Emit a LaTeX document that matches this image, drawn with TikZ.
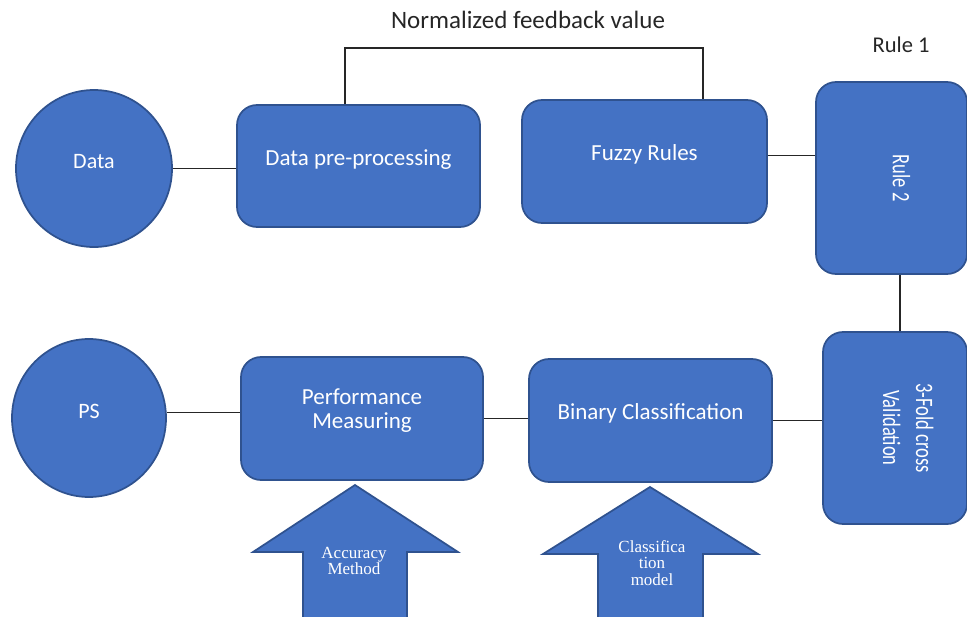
\documentclass[tikz,border=0pt]{standalone}
\usepackage{fontspec}
\setmainfont{Carlito}
\newfontfamily\serifarrow{Liberation Serif}
\usepackage{graphicx}
\usetikzlibrary{shapes.geometric}
\definecolor{fillblue}{HTML}{4472C4}
\definecolor{edgeblue}{HTML}{2F528F}
\definecolor{inkgray}{HTML}{262626}
\newcommand{\mytxt}[2][0.5pt]{\raisebox{#1}[0pt][0pt]{#2}}
\newcommand{\rottxt}[2]{\rotatebox{-90}{\raisebox{#1}[0pt][0pt]{\scalebox{1}[1.35]{#2}}}}
\tikzset{
  shapebase/.style={draw=edgeblue, fill=fillblue, line width=1.3pt, text=white,
    font=\fontsize{17.25}{18}\selectfont, inner sep=0pt},
  roundbox/.style={shapebase, rectangle, rounded corners=15pt},
  circ/.style={shapebase, ellipse, font=\fontsize{16.5}{18}\selectfont},
  rotbox/.style={roundbox, font=\fontsize{13.9}{18.3}\selectfont},
  link/.style={draw=inkgray, line width=0.9pt},
  blockarrow/.style={draw=edgeblue, fill=fillblue, line width=1.3pt, line join=miter},
  arrowtext/.style={text=white, font=\serifarrow\fontsize{12.75}{12.4}\selectfont,
    align=center, inner sep=0pt},
  plaintext/.style={text=inkgray, inner sep=0pt, anchor=base}
}
\begin{document}
\begin{tikzpicture}[x=0.75pt,y=-0.75pt]
\useasboundingbox (0,0) rectangle (967,617);
\clip (0,0) rectangle (967,617);

% top row
\node[circ, minimum width=117pt, minimum height=117.75pt] (data) at (94,168.5) {\mytxt[0pt]{Data}};
\node[roundbox, minimum width=182.25pt, minimum height=91.5pt] (pre) at (358.5,166) {\mytxt{Data pre-processing}};
\node[roundbox, minimum width=183.75pt, minimum height=92.25pt] (fuzzy) at (644.5,161.5) {\mytxt{Fuzzy Rules}};
\node[rotbox, minimum width=113.25pt, minimum height=144pt] (rtwo) at (891.5,178) {\rottxt{1pt}{Rule 2}};

% bottom row
\node[circ, minimum width=115.5pt, minimum height=118.5pt] (ps) at (89,418) {\mytxt[0pt]{PS}};
\node[roundbox, minimum width=181.5pt, minimum height=92.25pt] (perf) at (362,418.5) {\mytxt[0.8pt]{\begin{tabular}{@{}c@{}}Performance\\Measuring\end{tabular}}};
\node[roundbox, minimum width=182.25pt, minimum height=92.25pt] (bin) at (650.5,420.5) {\mytxt{Binary Classification}};
\node[rotbox, minimum width=108pt, minimum height=144pt] (fold) at (895,428) {\rottxt{3.5pt}{\begin{tabular}{@{}c@{}}3-Fold cross\\Validation\end{tabular}}};

% labels
\node[plaintext, font=\fontsize{18.75}{20}\selectfont] (title) at (528,28.5) {Normalized feedback value};
\node[plaintext, font=\fontsize{16.9}{18}\selectfont] (ruleone) at (901,53) {Rule 1};

% connectors
\coordinate (fbL) at (345,48);
\coordinate (fbR) at (703,48);
\coordinate (vx) at (900,300);
\draw[link] (data.east) -- (data.east -| pre.west);
\draw[link] (pre.north -| fbL) -- (fbL) -- (fbR) -- (fuzzy.north -| fbR);
\draw[link] ([yshift=4.5pt]fuzzy.east) -- ([yshift=4.5pt]fuzzy.east -| rtwo.west);
\draw[link] (rtwo.south -| vx) -- (fold.north -| vx);
\draw[link] (bin.east) -- (bin.east -| fold.west);
\draw[link] (perf.east) -- (perf.east -| bin.west);
\draw[link] (ps.4) -- (ps.4 -| perf.west);

% block arrows
\draw[blockarrow] (355,485) -- (458,552) -- (407,552) -- (407,640) -- (303,640) -- (303,552) -- (253,552) -- cycle;
\draw[blockarrow] (650,487) -- (758,554) -- (703,554) -- (703,640) -- (598,640) -- (598,554) -- (543,554) -- cycle;
\node[arrowtext] (acc) at (354,561) {Accuracy\\Method};
\node[arrowtext] (clm) at (652,563) {Classifica\\tion\\model};
\end{tikzpicture}
\end{document}
